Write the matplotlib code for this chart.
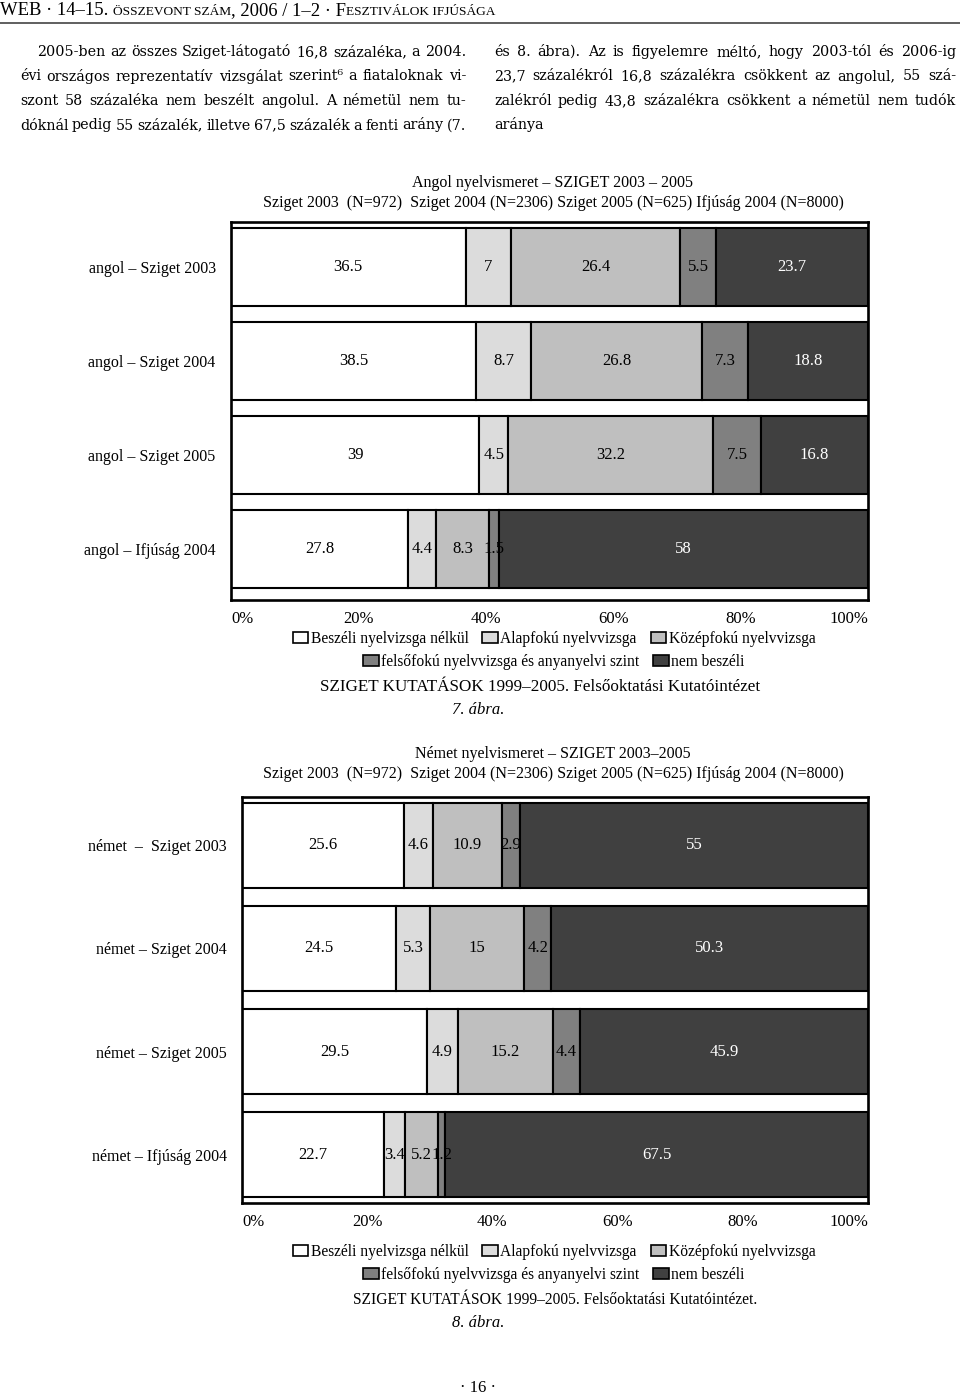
import numpy as np
import matplotlib
matplotlib.use('Agg')
import matplotlib.pyplot as plt
from matplotlib.patches import Patch

# --- data ---
series = ['Beszéli nyelvizsga nélkül', 'Alapfokú nyelvvizsga', 'Középfokú nyelvvizsga',
          'felsőfokú nyelvvizsga és anyanyelvi szint', 'nem beszéli']
colors = ['#ffffff', '#dcdcdc', '#bfbfbf', '#808080', '#404040']

angol_rows = ['angol – Sziget 2003', 'angol – Sziget 2004', 'angol – Sziget 2005', 'angol – Ifjúság 2004']
angol_nelkul = [36.5, 38.5, 39, 27.8]
angol_alap = [7, 8.7, 4.5, 4.4]
angol_kozep = [26.4, 26.8, 32.2, 8.3]
angol_felso = [5.5, 7.3, 7.5, 1.5]
angol_nem = [23.7, 18.8, 16.8, 58]

nemet_rows = ['német  –  Sziget 2003', 'német – Sziget 2004', 'német – Sziget 2005', 'német – Ifjúság 2004']
nemet_nelkul = [25.6, 24.5, 29.5, 22.7]
nemet_alap = [4.6, 5.3, 4.9, 3.4]
nemet_kozep = [10.9, 15, 15.2, 5.2]
nemet_felso = [2.9, 4.2, 4.4, 1.2]
nemet_nem = [55, 50.3, 45.9, 67.5]

pct_ticks = [0, 20, 40, 60, 80, 100]

W, H = 960, 1395
SERIF = ['Liberation Serif', 'DejaVu Serif']
BODY = ['DejaVu Serif']
plt.rcParams['font.family'] = SERIF

fig = plt.figure(figsize=(W / 100, H / 100), dpi=100)
renderer = fig.canvas.get_renderer()


def fx(x):
    return x / W


def fy(y):
    return 1 - y / H


def put(x, y, s, size, **kw):
    return fig.text(fx(x), fy(y), s, fontsize=size, **kw)


def text_width(t):
    return t.get_window_extent(renderer).width


def justify_line(line, x0, x1, y, size, full=True):
    # place words one by one so the line fills the column
    words = line.split(' ')
    objs = [put(0, y, w, size, va='baseline', family=BODY) for w in words]
    widths = [text_width(t) for t in objs]
    space = (text_width(put(0, y, 'a a', size, alpha=0, family=BODY))
             - text_width(put(0, y, 'aa', size, alpha=0, family=BODY)))
    if full and len(words) > 1:
        gap = (x1 - x0 - sum(widths)) / (len(words) - 1)
    else:
        gap = space
    x = x0
    for t, w in zip(objs, widths):
        t.set_position((fx(x), fy(y)))
        x += w + gap


# --- header with small caps ---
x = 0
for s, sz in [('WEB · 14–15. ', 13.4), ('ÖSSZEVONT SZÁM', 9.6), (', 2006 / 1–2 · F', 13.4),
              ('ESZTIVÁLOK IFJÚSÁGA', 9.6)]:
    t = put(x, 15, s, sz, va='baseline')
    x += text_width(t)
fig.add_artist(plt.Line2D([0, 1], [fy(23), fy(23)], color='#444444', lw=1.2))

# --- body text ---
left_col = ['2005-ben az összes Sziget-látogató 16,8 százaléka, a 2004.',
            'évi országos reprezentatív vizsgálat szerint⁶ a fiataloknak vi-',
            'szont 58 százaléka nem beszélt angolul. A németül nem tu-',
            'dóknál pedig 55 százalék, illetve 67,5 százalék a fenti arány (7.']
right_col = ['és 8. ábra). Az is figyelemre méltó, hogy 2003-tól és 2006-ig',
             '23,7 százalékról 16,8 százalékra csökkent az angolul, 55 szá-',
             'zalékról pedig 43,8 százalékra csökkent a németül nem tudók',
             'aránya']
for i, line in enumerate(left_col):
    justify_line(line, 37 if i == 0 else 20, 466, 56 + i * 24.5, 10.3)
for i, line in enumerate(right_col):
    justify_line(line, 494, 956, 56 + i * 24.5, 10.3, full=(i < 3))


def stacked_chart(box, rows, cols, title, subtitle, title_y, leg_y, source, src_x, src_size,
                  fig_label, ylim):
    x0, x1, y0, y1 = box
    ax = fig.add_axes([fx(x0), fy(y1), (x1 - x0) / W, (y1 - y0) / H])
    data = np.array(cols, dtype=float)
    shares = data / data.sum(axis=0) * 100
    ypos = np.arange(len(rows))
    left = np.zeros(len(rows))
    for k in range(len(series)):
        ax.barh(ypos, shares[k], left=left, height=0.83, color=colors[k],
                edgecolor='black', linewidth=1.5)
        for r in range(len(rows)):
            ax.text(left[r] + shares[k][r] / 2, ypos[r], f'{data[k][r]:g}',
                    ha='center', va='center', fontsize=12,
                    color='white' if k == 4 else 'black')
        left += shares[k]
    ax.set_xlim(0, 100)
    ax.set_ylim(*ylim)
    ax.set_yticks(ypos)
    ax.set_yticklabels(rows, fontsize=11.5)
    ax.set_xticks(pct_ticks)
    labels = ax.set_xticklabels([f'{p}%' for p in pct_ticks], fontsize=12)
    labels[0].set_ha('left')
    labels[-1].set_ha('right')
    ax.tick_params(axis='both', length=0)
    ax.tick_params(axis='y', pad=11)
    ax.tick_params(axis='x', pad=8)
    for sp in ax.spines.values():
        sp.set_linewidth(1.9)

    put(553, title_y, title, 11.5, ha='center', va='center')
    put(553, title_y + 20, subtitle, 11.5, ha='center', va='center')

    handles = [Patch(facecolor=c, edgecolor='black', linewidth=1.2) for c in colors]
    for idx, yy in [([0, 1, 2], leg_y), ([3, 4], leg_y + 23)]:
        fig.legend([handles[i] for i in idx], [series[i] for i in idx], loc='center',
                   bbox_to_anchor=(fx(554), fy(yy)), ncol=len(idx), frameon=False,
                   fontsize=11.2, handlelength=1.0, handleheight=0.65, handletextpad=0.15,
                   columnspacing=0.9, borderpad=0, borderaxespad=0)
    put(src_x, leg_y + 48, source, src_size, ha='center', va='center')
    put(478, leg_y + 71, fig_label, 12, ha='center', va='center', style='italic')
    return ax


stacked_chart((231, 868, 222, 600), angol_rows,
              [angol_nelkul, angol_alap, angol_kozep, angol_felso, angol_nem],
              'Angol nyelvismeret – SZIGET 2003 – 2005',
              'Sziget 2003  (N=972)  Sziget 2004 (N=2306) Sziget 2005 (N=625) Ifjúság 2004 (N=8000)',
              183, 639, 'SZIGET KUTATÁSOK 1999–2005. Felsőoktatási Kutatóintézet', 540, 12.3,
              '7. ábra.', (3.54, -0.48))

stacked_chart((242, 868, 797, 1203), nemet_rows,
              [nemet_nelkul, nemet_alap, nemet_kozep, nemet_felso, nemet_nem],
              'Német nyelvismeret – SZIGET 2003–2005',
              'Sziget 2003  (N=972)  Sziget 2004 (N=2306) Sziget 2005 (N=625) Ifjúság 2004 (N=8000)',
              754, 1252, 'SZIGET KUTATÁSOK 1999–2005. Felsőoktatási Kutatóintézet.', 555, 11.2,
              '8. ábra.', (3.47, -0.47))

put(478, 1388, '· 16 ·', 12, ha='center', va='center')

fig.savefig('out.png', dpi=100)
